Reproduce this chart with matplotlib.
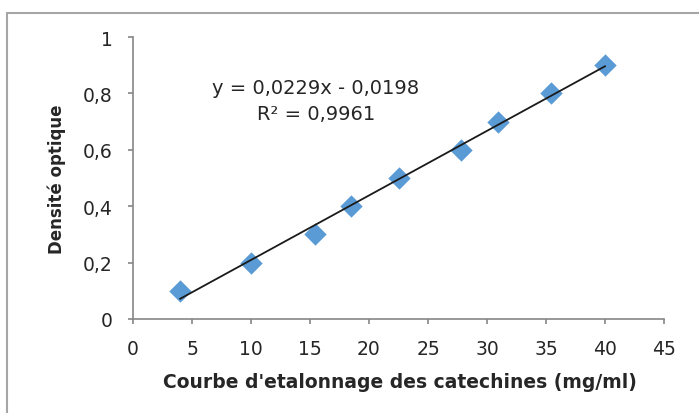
import matplotlib
matplotlib.use("Agg")
import matplotlib.pyplot as plt
from matplotlib.patches import Rectangle
import numpy as np

concentration = [4, 10, 15.4, 18.5, 22.5, 27.8, 30.9, 35.4, 40]
densite = [0.1, 0.2, 0.3, 0.4, 0.5, 0.6, 0.7, 0.8, 0.9]
slope, intercept = 0.0229, -0.0198
x_ticks = [0, 5, 10, 15, 20, 25, 30, 35, 40, 45]
y_ticks = [0, 0.2, 0.4, 0.6, 0.8, 1.0]
y_tick_labels = ["0", "0,2", "0,4", "0,6", "0,8", "1"]

plt.rcParams['font.family'] = ['DejaVu Sans']
W, H = 699, 414
fig = plt.figure(figsize=(W/100, H/100), dpi=100)
fig.patch.set_facecolor('white')

# outer chart border
fig.patches.append(Rectangle((7/W, -0.1), 1.2, 1 - 14/H + 0.1, transform=fig.transFigure,
                             fill=False, edgecolor='#a6a6a6', linewidth=1.5))

ax = fig.add_axes([133/W, 1 - 320/H, (664-133)/W, (320-38)/H])
ax.set_xlim(0, 45)
ax.set_ylim(0, 1)
for s in ['top', 'right']:
    ax.spines[s].set_visible(False)
for s in ['left', 'bottom']:
    ax.spines[s].set_color('#868686')
    ax.spines[s].set_linewidth(1.2)

ax.scatter(concentration, densite, marker='D', s=130, color='#5b9bd5', zorder=3, linewidths=0)
xl = np.array([concentration[0], concentration[-1]])
ax.plot(xl, slope*xl + intercept, color='#1a1a1a', linewidth=1.3, zorder=4)

ax.set_xticks(x_ticks)
ax.set_xticklabels([str(t) for t in x_ticks])
ax.set_yticks(y_ticks)
ax.set_yticklabels(y_tick_labels)
ax.tick_params(axis='both', colors='#868686', labelcolor='#262626', labelsize=13.5,
               length=3.6, width=1.2, direction='out')
ax.tick_params(axis='x', pad=10.5)
ax.tick_params(axis='y', pad=11)

fig.text(316/W, 1 - 89/H, "y = 0,0229x - 0,0198",
         ha='center', va='center', fontsize=14, color='#262626')
fig.text(316/W, 1 - 114/H, "R² = 0,9961",
         ha='center', va='center', fontsize=14, color='#262626')

fig.text(400/W, 1 - 383/H, "Courbe d'etalonnage des catechines (mg/ml)", ha='center', va='center',
         fontsize=13.5, fontweight='bold', color='#262626')
fig.text(57/W, 1 - 179/H, "Densité optique", ha='center', va='center', rotation=90,
         fontsize=12, fontweight='bold', color='#262626')

fig.savefig('out.png', dpi=100)
